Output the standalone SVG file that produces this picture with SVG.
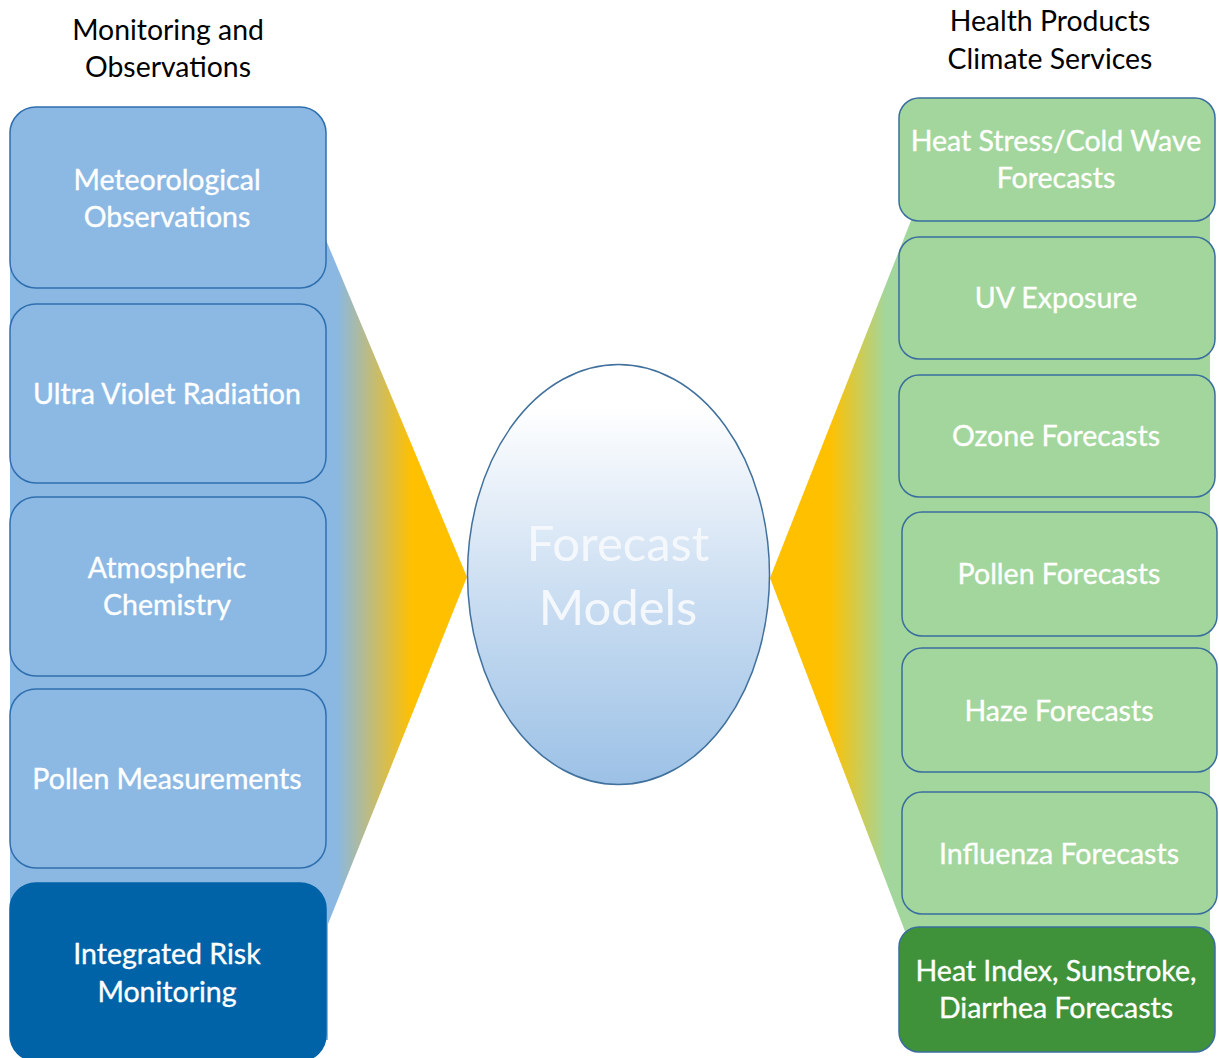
<svg xmlns="http://www.w3.org/2000/svg" width="1219" height="1058" viewBox="0 0 1219 1058">
<defs>
<linearGradient id="gLeft" gradientUnits="userSpaceOnUse" x1="337" y1="0" x2="412" y2="0">
<stop offset="0" stop-color="#8AB8E3"/>
<stop offset="1" stop-color="#FFC000"/>
</linearGradient>
<linearGradient id="gRight" gradientUnits="userSpaceOnUse" x1="830" y1="0" x2="886" y2="0">
<stop offset="0" stop-color="#FFC000"/>
<stop offset="1" stop-color="#A3D69C"/>
</linearGradient>
<linearGradient id="gEll" x1="0" y1="0" x2="0" y2="1">
<stop offset="0.1" stop-color="#FFFFFF"/>
<stop offset="0.5" stop-color="#D0E1F3"/>
<stop offset="1" stop-color="#9CC1E6"/>
</linearGradient>
<style>
.lb{fill:#8CB9E4;stroke:#2F6FAE;stroke-width:1.5}
.db{fill:#0063A8;stroke:#0063A8;stroke-width:1.5}
.gb{fill:#A3D69C;stroke:#3A6E9E;stroke-width:1.5}
.dg{fill:#3F923A;stroke:#3A6E9E;stroke-width:1.5}
.t{font-family:Lato,"Open Sans",sans-serif;font-size:28.5px;fill:#FFFFFF;stroke:#FFFFFF;stroke-width:0.35;text-anchor:middle}
.h{font-family:Lato,"Open Sans",sans-serif;font-size:28.4px;fill:#000000;text-anchor:middle}
.big{font-family:Lato,"Open Sans",sans-serif;font-size:49px;fill:#F4F8FC;text-anchor:middle}
</style>
</defs>
<rect width="1219" height="1058" fill="#FFFFFF"/>
<g id="headers">
<text class="h" x="168" y="40">Monitoring and</text>
<text class="h" x="168" y="77">Observations</text>
<text class="h" x="1050" y="31">Health Products</text>
<text class="h" x="1050" y="69">Climate Services</text>
</g>
<g id="connectors">
<polygon points="10,130 326,130 326,240 467,577 328,924 328,1040 10,1040" fill="url(#gLeft)"/>
<polygon points="1210,215 912,215 912,218 770,578 906,934 1210,934" fill="url(#gRight)"/>
</g>
<g id="forecast-models">
<ellipse cx="618.5" cy="574.5" rx="151" ry="210" fill="url(#gEll)" stroke="#41719C" stroke-width="1.5"/>
<text class="big" x="618" y="561">Forecast</text>
<text class="big" x="618" y="625">Models</text>
</g>
<g id="meteorological-observations">
<rect class="lb" x="10" y="107" width="316" height="181" rx="26"/>
<text class="t" x="167" y="190">Meteorological</text>
<text class="t" x="167" y="227">Observations</text>
</g>
<g id="ultra-violet-radiation">
<rect class="lb" x="10" y="304" width="316" height="179" rx="26"/>
<text class="t" x="167" y="404">Ultra Violet Radiation</text>
</g>
<g id="atmospheric-chemistry">
<rect class="lb" x="10" y="497" width="316" height="179" rx="26"/>
<text class="t" x="167" y="578">Atmospheric</text>
<text class="t" x="167" y="615">Chemistry</text>
</g>
<g id="pollen-measurements">
<rect class="lb" x="10" y="689" width="316" height="179" rx="26"/>
<text class="t" x="167" y="789">Pollen Measurements</text>
</g>
<g id="integrated-risk-monitoring">
<rect class="db" x="10" y="883" width="316" height="178" rx="26"/>
<text class="t" x="167" y="964">Integrated Risk</text>
<text class="t" x="167" y="1002">Monitoring</text>
</g>
<g id="heat-stress">
<rect class="gb" x="899" y="98" width="316" height="123" rx="20"/>
<text class="t" x="1056" y="151">Heat Stress/Cold Wave</text>
<text class="t" x="1056" y="188">Forecasts</text>
</g>
<g id="uv-exposure">
<rect class="gb" x="899" y="237" width="316" height="122" rx="20"/>
<text class="t" x="1056" y="308">UV Exposure</text>
</g>
<g id="ozone-forecasts">
<rect class="gb" x="899" y="375" width="316" height="122" rx="20"/>
<text class="t" x="1056" y="446">Ozone Forecasts</text>
</g>
<g id="pollen-forecasts">
<rect class="gb" x="902" y="512" width="315" height="124" rx="20"/>
<text class="t" x="1059" y="584">Pollen Forecasts</text>
</g>
<g id="haze-forecasts">
<rect class="gb" x="902" y="648" width="315" height="124" rx="20"/>
<text class="t" x="1059" y="721">Haze Forecasts</text>
</g>
<g id="influenza-forecasts">
<rect class="gb" x="902" y="792" width="315" height="122" rx="20"/>
<text class="t" x="1059" y="864">Influenza Forecasts</text>
</g>
<g id="heat-index">
<rect class="dg" x="899" y="927" width="316" height="125" rx="20"/>
<text class="t" x="1056" y="981">Heat Index, Sunstroke,</text>
<text class="t" x="1056" y="1018">Diarrhea Forecasts</text>
</g>
</svg>
